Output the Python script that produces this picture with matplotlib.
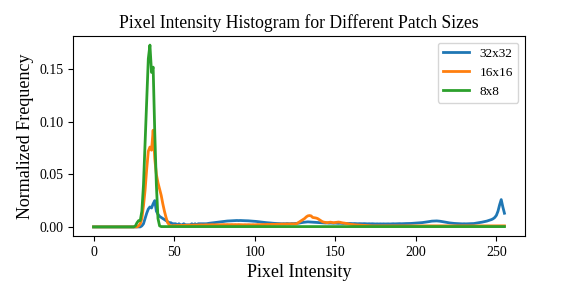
import numpy as np
import matplotlib
matplotlib.use("Agg")
import matplotlib.pyplot as plt

plt.rcParams['font.family'] = ['Liberation Serif', 'DejaVu Serif']

# normalized frequency per pixel value 0..255
blue_32 = (
    [0.0] * 30
    + [0.001, 0.003, 0.008, 0.013, 0.017, 0.019, 0.018, 0.022, 0.025, 0.015,
       0.012, 0.010, 0.009, 0.008, 0.007, 0.006, 0.005, 0.004, 0.004, 0.003,
       0.003]
    + [0.003, 0.002, 0.003, 0.002, 0.002, 0.003, 0.002, 0.002, 0.002, 0.002,
       0.003, 0.002, 0.003, 0.002, 0.003, 0.003, 0.003, 0.003, 0.003]
    + [0.0030, 0.0033, 0.0035, 0.0037, 0.0040, 0.0042, 0.0044, 0.0046, 0.0048, 0.0050,
       0.0052, 0.0053, 0.0055, 0.0056, 0.0057, 0.0058, 0.0059, 0.0060, 0.0060, 0.0061,
       0.0060, 0.0061, 0.0060, 0.0060, 0.0059, 0.0059, 0.0058, 0.0057, 0.0056, 0.0055,
       0.0054, 0.0052, 0.0050, 0.0049, 0.0047, 0.0045, 0.0043, 0.0041, 0.0040, 0.0038,
       0.0037, 0.0035, 0.0034, 0.0033, 0.0032, 0.0031, 0.0030]
    + [0.0030, 0.0031, 0.0030, 0.0032, 0.0031, 0.0030, 0.0032, 0.0031, 0.0032]
    + [0.0033, 0.0035, 0.0038, 0.0040, 0.0043, 0.0045, 0.0047, 0.0048, 0.0047, 0.0046,
       0.0045, 0.0044, 0.0043, 0.0042, 0.0040]
    + [0.0039, 0.0038, 0.0039, 0.0037, 0.0038, 0.0036, 0.0037, 0.0036, 0.0035, 0.0036,
       0.0035, 0.0034, 0.0035, 0.0034, 0.0033, 0.0034, 0.0033, 0.0032, 0.0033, 0.0032,
       0.0031, 0.0032, 0.0031, 0.0030, 0.0031, 0.0030, 0.0030, 0.0031, 0.0030, 0.0029,
       0.0030, 0.0029, 0.0030, 0.0029, 0.0028, 0.0029, 0.0028, 0.0029, 0.0028, 0.0029,
       0.0028, 0.0029, 0.0029, 0.0028, 0.0029, 0.0030, 0.0029, 0.0030, 0.0030, 0.0031,
       0.0030, 0.0031, 0.0031, 0.0032, 0.0032, 0.0033, 0.0033, 0.0034, 0.0034, 0.0035]
    + [0.0036, 0.0037, 0.0039, 0.0041, 0.0043, 0.0045, 0.0048, 0.0050, 0.0053, 0.0055,
       0.0056, 0.0057, 0.0057, 0.0056, 0.0054, 0.0052, 0.0049, 0.0046, 0.0043, 0.0040,
       0.0038, 0.0036, 0.0034, 0.0033, 0.0032]
    + [0.0031, 0.0030, 0.0030, 0.0029, 0.0030, 0.0029, 0.0030, 0.0030, 0.0031, 0.0031,
       0.0032]
    + [0.0035, 0.0037, 0.0040, 0.0042, 0.0045, 0.0048, 0.0050, 0.0055, 0.0060, 0.0065,
       0.0070, 0.0078, 0.0090, 0.0110, 0.0150, 0.0210, 0.0260, 0.0190, 0.0130]
)

orange_16 = (
    [0.0] * 28
    + [0.001, 0.003, 0.008, 0.020, 0.035, 0.055, 0.072, 0.076, 0.073, 0.092,
       0.065, 0.050, 0.042, 0.036, 0.030, 0.022, 0.015, 0.009, 0.004, 0.002,
       0.001]
    + [0.0012, 0.0013, 0.0012, 0.0014, 0.0013, 0.0015, 0.0014, 0.0015, 0.0016, 0.0015,
       0.0016, 0.0017, 0.0016, 0.0017, 0.0018, 0.0017, 0.0018, 0.0018, 0.0019, 0.0018,
       0.0019, 0.0020, 0.0019, 0.0020, 0.0020, 0.0021, 0.0020, 0.0021, 0.0021, 0.0020,
       0.0021, 0.0021, 0.0022, 0.0021, 0.0022, 0.0021, 0.0022, 0.0022, 0.0021, 0.0022,
       0.0021, 0.0022, 0.0021, 0.0021, 0.0020, 0.0021, 0.0020, 0.0021, 0.0020, 0.0020,
       0.0021, 0.0020, 0.0021, 0.0022, 0.0021, 0.0022, 0.0023, 0.0022, 0.0023, 0.0024,
       0.0023, 0.0024, 0.0025, 0.0024, 0.0025, 0.0026, 0.0025, 0.0026, 0.0027, 0.0026,
       0.0027, 0.0028, 0.0027, 0.0028, 0.0029, 0.0028, 0.0029]
    + [0.0030, 0.0040, 0.0050, 0.0060, 0.0070, 0.0080, 0.0095, 0.0105, 0.0108, 0.0105,
       0.0090, 0.0088, 0.0085, 0.0080, 0.0070, 0.0060, 0.0050]
    + [0.0045, 0.0042, 0.0040, 0.0042, 0.0045, 0.0043, 0.0040, 0.0042, 0.0044, 0.0046,
       0.0044, 0.0040, 0.0038, 0.0035, 0.0032, 0.0030, 0.0027, 0.0024]
    + [0.0022, 0.0020, 0.0019, 0.0018, 0.0016, 0.0015, 0.0014, 0.0013, 0.0012, 0.0012,
       0.0011, 0.0011, 0.0010, 0.0010, 0.0010]
    + [0.001] * 80
)

green_8 = (
    [0.0] * 26
    + [0.001, 0.004, 0.006, 0.006, 0.015, 0.040, 0.080, 0.120, 0.160, 0.173,
       0.147, 0.152, 0.090, 0.040, 0.008, 0.001]
    + [0.0003] * 214
)

labels = ["32x32", "16x16", "8x8"]
series = [blue_32, orange_16, green_8]
colors = ["#1f77b4", "#ff7f0e", "#2ca02c"]

pixels = np.arange(256)

fig = plt.figure(figsize=(5.81, 2.95), dpi=100)
ax = fig.add_axes([0.1256, 0.200, 0.778, 0.678])

for vals, lab, col in zip(series, labels, colors):
    ax.plot(pixels, vals, color=col, linewidth=2, label=lab)

ax.set_title("Pixel Intensity Histogram for Different Patch Sizes", fontsize=12.7)
ax.set_xlabel("Pixel Intensity", fontsize=13)
ax.set_ylabel("Normalized Frequency", fontsize=13)
ax.set_xticks([0, 50, 100, 150, 200, 250])
ax.set_yticks([0.0, 0.05, 0.10, 0.15])
ax.tick_params(labelsize=10)
ax.legend(loc="upper right", fontsize=9.5)

fig.savefig("out.png", dpi=100)
